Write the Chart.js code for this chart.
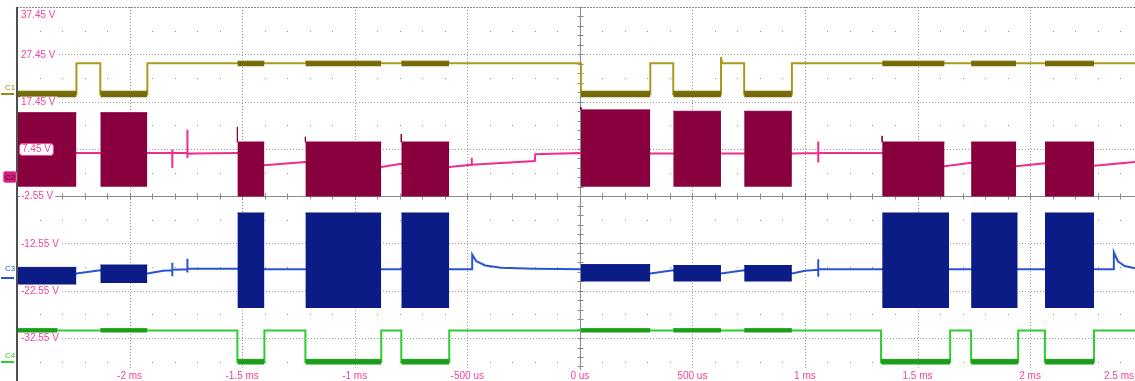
<!DOCTYPE html>
<html>
<head>
<meta charset="utf-8">
<script src="https://cdn.jsdelivr.net/npm/chart.js@4/dist/chart.umd.min.js"></script>
<style>
  html, body { margin: 0; padding: 0; background: #ffffff; overflow: hidden; }
  canvas { display: block; }
</style>
</head>
<body>
<canvas id="scope" width="1135" height="381"></canvas>
<script>
// Graticule: time divisions (ms) and voltage divisions (V)
const timeTicks = [-2, -1.5, -1, -0.5, 0, 0.5, 1, 1.5, 2, 2.5];
const timeLabels = ['-2 ms', '-1.5 ms', '-1 ms', '-500 us', '0 us', '500 us', '1 ms', '1.5 ms', '2 ms', '2.5 ms'];
const voltTicks = [37.45, 27.45, 17.45, 7.45, -2.55, -12.55, -22.55, -32.55];
const voltLabels = ['37.45 V', '27.45 V', '17.45 V', '7.45 V', '-2.55 V', '-12.55 V', '-22.55 V', '-32.55 V'];
const timeRange = [-2.5, 2.466];
const voltRange = [-41.62, 37.45];

// Channel 1: digital enable signal [t ms, V]
const c1Trace = [
  [-2.5, 19.0], [-2.236, 19.0], [-2.236, 25.55], [-2.130, 25.55], [-2.130, 19.0], [-1.921, 19.0],
  [-1.921, 25.55], [0.005, 25.55], [0.005, 19.0], [0.313, 19.0], [0.313, 25.55], [0.415, 25.55],
  [0.415, 19.0], [0.627, 19.0], [0.627, 26.9], [0.632, 25.55], [0.730, 25.55], [0.730, 19.0],
  [0.942, 19.0], [0.942, 25.55], [2.466, 25.55]
];
// Channel 1 noisy stretches [t0, t1, upper V, lower V]
const c1Noise = [
  [-2.5, -2.236, 19.65, 18.35], [-2.130, -1.921, 19.65, 18.35], [0.005, 0.313, 19.65, 18.35],
  [0.415, 0.627, 19.65, 18.35], [0.730, 0.942, 19.65, 18.35],
  [-1.521, -1.401, 26.0, 24.9], [-1.219, -0.882, 26.0, 24.9], [-0.793, -0.580, 26.0, 24.9],
  [1.343, 1.620, 26.0, 24.9], [1.738, 1.938, 26.0, 24.9], [2.066, 2.284, 26.0, 24.9]
];

// Channel 2: switching node baseline [t ms, V]
const c2Trace = [
  [-2.5, 6.6], [-1.810, 6.6], [-1.810, 7.3], [-1.810, 3.4], [-1.810, 6.6], [-1.743, 6.6],
  [-1.743, 11.5], [-1.743, 5.5], [-1.743, 6.4], [-1.72, 6.5], [-1.521, 6.6], [-1.401, 4.0],
  [-1.219, 4.7], [-0.882, 3.6], [-0.793, 4.3], [-0.580, 3.6], [-0.480, 4.1], [-0.480, 5.6],
  [-0.480, 4.1], [-0.200, 4.9], [-0.198, 6.3], [0.005, 6.6], [0.313, 6.5], [0.415, 6.5],
  [0.627, 6.5], [0.730, 6.5], [0.942, 6.5], [1.059, 6.6], [1.059, 9.0], [1.059, 4.6],
  [1.059, 6.6], [1.343, 6.6], [1.620, 3.8], [1.738, 4.5], [1.938, 3.8], [2.066, 4.4],
  [2.284, 3.9], [2.466, 4.7]
];
// Channel 2 switching bursts [t0, t1, upper V, lower V, leading spike V]
const c2Bursts = [
  [-2.5, -2.236, 15.1, -0.55, null], [-2.130, -1.921, 15.1, -0.55, null],
  [-1.521, -1.401, 8.9, -2.6, 12.1], [-1.219, -0.882, 8.9, -2.6, 10.0], [-0.793, -0.580, 8.9, -2.6, 10.6],
  [0.005, 0.313, 15.7, -0.55, 16.3], [0.415, 0.627, 15.4, -0.55, null], [0.730, 0.942, 15.4, -0.55, null],
  [1.343, 1.620, 8.9, -2.6, 10.2], [1.738, 1.938, 8.9, -2.6, null], [2.066, 2.284, 8.9, -2.6, null]
];

// Channel 3: output current sense [t ms, V]
const c3Trace = [
  [-2.5, -18.6], [-2.236, -18.9], [-2.130, -18.2], [-1.921, -18.9], [-1.85, -18.3], [-1.810, -18.2],
  [-1.810, -16.6], [-1.810, -19.5], [-1.810, -18.1], [-1.743, -18.0], [-1.743, -15.8], [-1.743, -18.7],
  [-1.743, -17.9], [-1.521, -17.9], [-1.401, -18.0], [-0.580, -18.0], [-0.478, -18.0], [-0.478, -14.9],
  [-0.46, -16.3], [-0.42, -17.2], [-0.35, -17.7], [-0.2, -17.9], [0.005, -18.0], [0.313, -18.9],
  [0.415, -18.2], [0.627, -18.9], [0.730, -18.2], [0.942, -18.9], [1.0, -18.3], [1.059, -18.1],
  [1.059, -15.9], [1.059, -19.6], [1.059, -18.0], [2.284, -18.0], [2.372, -18.0], [2.372, -14.4],
  [2.39, -16.3], [2.42, -17.3], [2.466, -17.8]
];
// Channel 3 ripple / switching bursts [t0, t1, upper V, lower V, leading spike V]
const c3Bursts = [
  [-2.5, -2.236, -17.6, -21.2, null], [-2.130, -1.921, -17.1, -20.9, null],
  [-1.521, -1.401, -6.1, -26.2, null], [-1.219, -0.882, -6.1, -26.2, null], [-0.793, -0.580, -6.1, -26.2, null],
  [0.005, 0.313, -17.0, -20.6, null], [0.415, 0.627, -17.2, -20.6, null], [0.730, 0.942, -17.2, -20.6, null],
  [1.343, 1.640, -6.1, -26.2, null], [1.738, 1.945, -6.1, -26.2, null], [2.066, 2.284, -6.1, -26.2, null]
];

// Channel 4: gate drive logic [t ms, V]
const c4Trace = [
  [-2.5, -30.95], [-1.521, -30.95], [-1.521, -37.6], [-1.401, -37.6], [-1.401, -30.95], [-1.219, -30.95],
  [-1.219, -37.6], [-0.882, -37.6], [-0.882, -30.95], [-0.793, -30.95], [-0.793, -37.6], [-0.580, -37.6],
  [-0.580, -30.95], [1.338, -30.95], [1.338, -37.6], [1.645, -37.6], [1.645, -30.95], [1.738, -30.95],
  [1.738, -37.6], [1.947, -37.6], [1.947, -30.95], [2.066, -30.95], [2.066, -37.6], [2.284, -37.6],
  [2.284, -30.95], [2.466, -30.95]
];
// Channel 4 noisy stretches [t0, t1, upper V, lower V]
const c4Noise = [
  [-1.521, -1.401, -37.05, -38.15], [-1.219, -0.882, -37.05, -38.15], [-0.793, -0.580, -37.05, -38.15],
  [1.338, 1.645, -37.05, -38.15], [1.738, 1.947, -37.05, -38.15], [2.066, 2.284, -37.05, -38.15],
  [-2.5, -2.32, -30.55, -31.35], [-2.130, -1.921, -30.55, -31.35], [0.005, 0.313, -30.55, -31.35],
  [0.415, 0.627, -30.55, -31.35], [0.730, 0.942, -30.55, -31.35]
];

const FONT = "'Liberation Sans', Arial, sans-serif";
const PINK = '#f5429c';
const COLORS = {
  c1: '#ab9b1c', c1n: '#746a06',
  c2: '#ee2d8c', c2b: '#89003f',
  c3: '#2a55d2', c3b: '#0b1c86',
  c4: '#2fcd2f', c4n: '#1b9f1b'
};

const pts = arr => arr.map(([t, v]) => ({ x: t, y: v }));

function traceSet(arr, color, width) {
  return { data: pts(arr), borderColor: color, backgroundColor: color, borderWidth: width, fill: false, order: 3 };
}
function blockSets(list, color, order) {
  return list.map(([t0, t1, top, bottom, lead]) => {
    const edge = lead != null ? [[t0, lead], [t0, top], [t1, top]] : [[t0, top], [t1, top]];
    return {
      data: pts(edge), borderColor: color, backgroundColor: color, borderWidth: 1,
      fill: { value: bottom }, order: order
    };
  });
}

const datasets = [
  traceSet(c1Trace, COLORS.c1, 2),
  ...blockSets(c1Noise, COLORS.c1n, 2),
  traceSet(c2Trace, COLORS.c2, 2),
  ...blockSets(c2Bursts, COLORS.c2b, 1),
  traceSet(c3Trace, COLORS.c3, 2),
  ...blockSets(c3Bursts, COLORS.c3b, 1),
  traceSet(c4Trace, COLORS.c4, 2),
  ...blockSets(c4Noise, COLORS.c4n, 2)
];

function seg(ctx, x0, y0, x1, y1) {
  ctx.beginPath(); ctx.moveTo(x0, y0); ctx.lineTo(x1, y1); ctx.stroke();
}

// Dotted graticule, centre axes with minor ticks, and sub-division dots
const graticule = {
  id: 'graticule',
  beforeDatasetsDraw(chart) {
    const { ctx, chartArea: a, scales: { x, y } } = chart;
    ctx.save();
    ctx.lineWidth = 1;
    ctx.strokeStyle = '#9c9c9c';
    ctx.setLineDash([1, 2]);
    timeTicks.forEach(t => {
      if (t === 0) return;
      const px = Math.round(x.getPixelForValue(t)) + 0.5;
      if (px < a.right) seg(ctx, px, a.top, px, a.bottom);
    });
    voltTicks.forEach(v => {
      if (v === -2.55) return;
      const py = Math.round(y.getPixelForValue(v)) + 0.5;
      seg(ctx, a.left, py, a.right, py);
    });
    ctx.setLineDash([]);

    // sub-division dots halfway between the voltage lines
    ctx.fillStyle = '#8f8f8f';
    for (let i = 0; i < voltTicks.length; i++) {
      const mid = voltTicks[i] - 5;
      const py = Math.round(y.getPixelForValue(mid));
      for (let k = -25; k <= 25; k++) {
        if (k % 5 === 0) continue;
        const px = Math.round(x.getPixelForValue(k / 10));
        if (px > a.left + 2 && px < a.right) ctx.fillRect(px, py, 1, 1);
      }
    }

    // centre axes
    ctx.strokeStyle = '#8a8a8a';
    const cx = Math.round(x.getPixelForValue(0)) + 0.5;
    const cy = Math.round(y.getPixelForValue(-2.55)) + 0.5;
    seg(ctx, cx, a.top, cx, a.bottom);
    seg(ctx, a.left, cy, a.right, cy);
    for (let k = -25; k <= 25; k++) {
      const px = Math.round(x.getPixelForValue(k / 10)) + 0.5;
      if (px > a.left && px < a.right) seg(ctx, px, cy - 3, px, cy + 3);
    }
    for (let v = 37.45; v >= voltRange[0]; v -= 2) {
      const py = Math.round(y.getPixelForValue(v)) + 0.5;
      seg(ctx, cx - 3, py, cx + 3, py);
    }
    ctx.restore();
  },
  afterDraw(chart) {
    const { ctx, chartArea: a, scales: { x, y } } = chart;
    ctx.save();
    // frame: dotted top edge, solid left edge
    ctx.strokeStyle = '#8c8c8c';
    ctx.lineWidth = 1;
    ctx.setLineDash([2, 1]);
    seg(ctx, a.left, a.top + 0.5, a.right, a.top + 0.5);
    ctx.setLineDash([]);
    ctx.strokeStyle = '#505050';
    ctx.lineWidth = 2;
    seg(ctx, a.left, a.top, a.left, chart.height);

    ctx.font = '10px ' + FONT;
    ctx.textBaseline = 'middle';

    // voltage labels
    voltTicks.forEach((v, i) => {
      let py = y.getPixelForValue(v);
      if (py < a.top + 8) py = a.top + 8;
      const txt = voltLabels[i];
      const w = ctx.measureText(txt).width;
      const lx = a.left + 4;
      if (v === 7.45) {
        ctx.fillStyle = '#ffffff';
        ctx.strokeStyle = PINK;
        ctx.lineWidth = 1;
        ctx.beginPath();
        ctx.roundRect(lx - 1.5, Math.round(py) - 5.5, w + 5, 12, 3);
        ctx.fill(); ctx.stroke();
        ctx.fillStyle = PINK;
        ctx.textAlign = 'left';
        ctx.fillText(txt, lx + 1, py + 0.5);
      } else {
        ctx.fillStyle = '#ffffff';
        ctx.fillRect(lx - 1, py - 5, w + 3, 10);
        ctx.fillStyle = PINK;
        ctx.textAlign = 'left';
        ctx.fillText(txt, lx, py + 0.5);
      }
    });

    // time labels
    const ty = 376;
    timeTicks.forEach((t, i) => {
      const txt = timeLabels[i];
      const w = ctx.measureText(txt).width;
      let cxp = x.getPixelForValue(t);
      if (cxp + w / 2 > chart.width - 1) cxp = chart.width - 1 - w / 2;
      ctx.fillStyle = '#ffffff';
      ctx.fillRect(cxp - w / 2 - 1, ty - 6, w + 2, 12);
      ctx.fillStyle = PINK;
      ctx.textAlign = 'center';
      ctx.fillText(txt, cxp, ty);
    });

    // channel reference markers
    ctx.font = '8px ' + FONT;
    ctx.textAlign = 'left';
    const marker = (name, color, ty2, dy) => {
      ctx.fillStyle = color;
      ctx.fillText(name, 5, ty2);
      ctx.fillRect(1, dy - 1, 13, 2);
    };
    marker('C1', '#9c8d12', 88, 94);
    marker('C3', '#2a55d2', 269, 278);
    marker('C4', '#2fcd2f', 356, 362);
    ctx.fillStyle = '#d01f78';
    ctx.strokeStyle = '#ff5aa8';
    ctx.lineWidth = 1;
    ctx.beginPath();
    ctx.roundRect(3.5, 171.5, 13, 11, 2);
    ctx.fill(); ctx.stroke();
    ctx.fillStyle = '#5a0026';
    ctx.fillText('C2', 5, 177.5);
    ctx.restore();
  }
};

new Chart(document.getElementById('scope'), {
  type: 'line',
  data: { datasets },
  options: {
    responsive: false,
    animation: false,
    events: [],
    layout: { padding: { left: 17, top: 7, right: 0, bottom: 0 } },
    scales: {
      x: { type: 'linear', min: timeRange[0], max: timeRange[1], display: false },
      y: { type: 'linear', min: voltRange[0], max: voltRange[1], display: false }
    },
    elements: { point: { radius: 0 }, line: { tension: 0 } },
    plugins: { legend: { display: false }, tooltip: { enabled: false } }
  },
  plugins: [graticule]
});
</script>
</body>
</html>
